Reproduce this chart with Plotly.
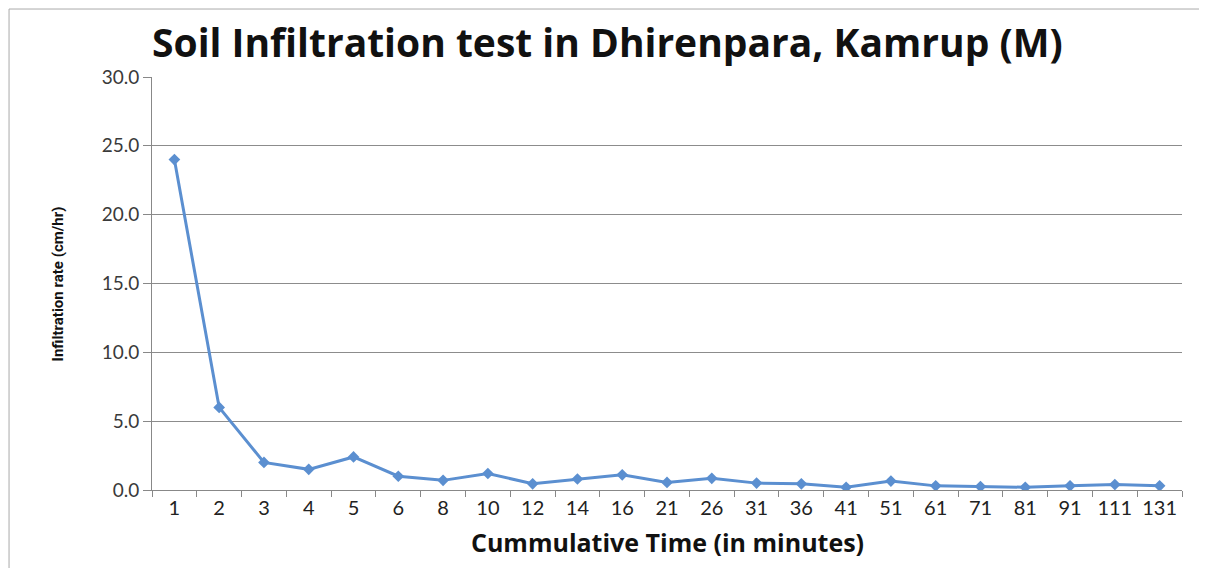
import plotly.graph_objects as go

# cumulative time (minutes) as categories
time_min = ["1", "2", "3", "4", "5", "6", "8", "10", "12", "14", "16", "21", "26",
            "31", "36", "41", "51", "61", "71", "81", "91", "111", "131"]
# infiltration rate (cm/hr)
rate = [24.0, 6.0, 2.0, 1.5, 2.4, 1.0, 0.7, 1.2, 0.45, 0.8, 1.1, 0.55, 0.85,
        0.5, 0.45, 0.2, 0.65, 0.3, 0.25, 0.2, 0.3, 0.4, 0.3]
y_ticks = [0, 5, 10, 15, 20, 25, 30]

fig = go.Figure()
fig.add_trace(go.Scatter(
    x=time_min, y=rate, mode="lines+markers",
    line=dict(color="#5B8FD0", width=3),
    marker=dict(symbol="diamond", size=9, color="#5B8FD0"),
    showlegend=False,
))

fig.update_layout(
    width=1207, height=568,
    margin=dict(l=144, r=33, t=69, b=86),
    paper_bgcolor="white", plot_bgcolor="white",
    font=dict(family="Lato, Open Sans, sans-serif", color="#222"),
    xaxis=dict(
        type="category", range=[-0.5, len(time_min) - 0.5],
        tickson="boundaries", ticks="outside", ticklen=6,
        tickcolor="#888", showline=True, linecolor="#888", linewidth=1,
        showgrid=False, tickfont=dict(size=20, color="#222"),
    ),
    yaxis=dict(
        range=[0, 30], tickvals=y_ticks, tickformat=".1f", ticks="outside",
        ticklen=8, tickcolor="#888", showline=True, linecolor="#888",
        showgrid=True, gridcolor="#8c8c8c", gridwidth=1, zeroline=False,
        tickfont=dict(size=19, color="#3a3a3a"),
    ),
    annotations=[
        dict(text="<b>Soil Infiltration test in Dhirenpara, Kamrup (M)</b>",
             xref="paper", yref="paper", x=0.442, y=1.085, xanchor="center",
             yanchor="middle", showarrow=False,
             font=dict(size=39, family="Open Sans, sans-serif", color="#111")),
        dict(text="<b>Cummulative Time (in minutes)</b>",
             xref="paper", yref="paper", x=0.5, y=-0.126, xanchor="center",
             yanchor="middle", showarrow=False,
             font=dict(size=25, family="Open Sans, sans-serif", color="#111")),
        dict(text="<b>Infiltration rate (cm/hr)</b>", textangle=-90,
             xref="paper", yref="paper", x=-0.0913, y=0.5, xanchor="center",
             yanchor="middle", showarrow=False,
             font=dict(size=15, family="Roboto, sans-serif", color="#111")),
    ],
    shapes=[
        dict(type="line", xref="paper", yref="paper", x0=-0.1388, x1=1.1,
             y0=1.1646, y1=1.1646, line=dict(color="#aaa", width=1)),
        dict(type="line", xref="paper", yref="paper", x0=-0.1388, x1=-0.1388,
             y0=1.1646, y1=-0.3, line=dict(color="#aaa", width=1)),
    ],
)

fig.write_html("out.html")
